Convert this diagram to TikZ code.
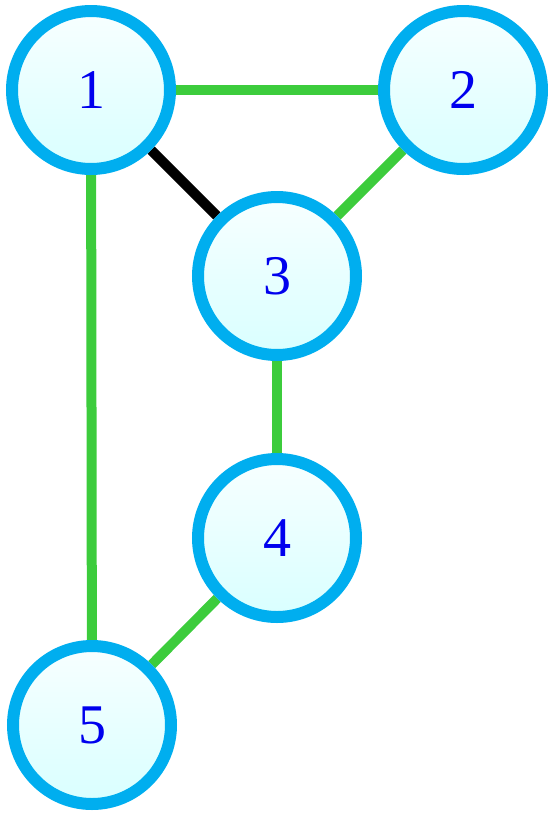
\documentclass[tikz,border=0pt]{standalone}
\usepackage{fontspec}
\setmainfont{Liberation Serif}
\definecolor{ringblue}{HTML}{00AEEF}
\definecolor{edgegreen}{HTML}{3CCC3C}
\definecolor{numblue}{HTML}{0000EE}
\usetikzlibrary{positioning, backgrounds}

\begin{document}
\begin{tikzpicture}[x=1pt, y=-1pt,
  vertex/.style={circle, draw=ringblue, line width=12pt, minimum size=158pt,
                 top color=cyan!3, bottom color=cyan!15, inner sep=0pt,
                 font=\fontsize{56}{60}\selectfont\color{numblue}},
  greenedge/.style={draw=edgegreen, line width=10pt},
  blackedge/.style={draw=black, line width=10pt}]
  \useasboundingbox (0,0) rectangle (554,815);
  \node[vertex] (n1) at (91,90) {1};
  \node[vertex] (n2) at (463,90) {2};
  \node[vertex] (n3) at (277,276) {3};
  \node[vertex] (n4) at (277,538) {4};
  \node[vertex] (n5) at (92,725) {5};
  % edges behind the vertices
  \begin{scope}[on background layer]
  \draw[greenedge] (n1) -- (n2);
  \draw[blackedge] (n1) -- (n3);
  \draw[greenedge] (n2) -- (n3);
  \draw[greenedge] (n3) -- (n4);
  \draw[greenedge] (n4) -- (n5);
  \draw[greenedge] (n1) -- (n5);
  \end{scope}
\end{tikzpicture}
\end{document}
